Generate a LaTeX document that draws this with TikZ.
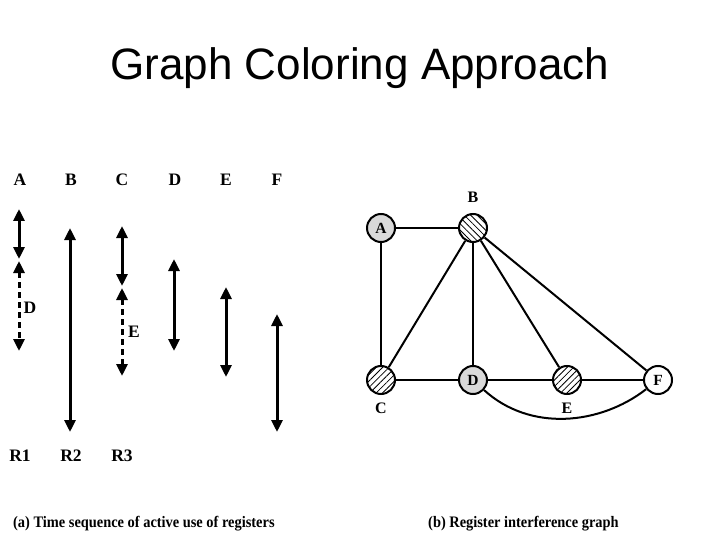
\documentclass[tikz,border=0pt]{standalone}
\usepackage{fontspec}
\setmainfont{Liberation Serif}
\newfontfamily\titlefont{Liberation Sans}
\usetikzlibrary{arrows.meta,patterns.meta}
\begin{document}
\begin{tikzpicture}[x=1pt,y=-1pt,
  lab/.style={font=\fontsize{17.5}{17.5}\selectfont\bfseries, inner sep=0pt},
  life/.style={line width=3pt, {Triangle[length=12pt,width=11pt]}-{Triangle[length=12pt,width=11pt]}},
  lifedash/.style={life, dash pattern=on 6pt off 4pt},
  vtx/.style={circle, draw, line width=2pt, minimum size=28pt, inner sep=0pt, font=\fontsize{15.5}{15.5}\selectfont\bfseries},
  grayfill/.style={fill=black!15},
  hatchne/.style={fill=white, postaction={pattern={Lines[angle=45,distance=4.5pt,line width=0.8pt]}}},
  hatchnw/.style={fill=white, postaction={pattern={Lines[angle=-45,distance=4.5pt,line width=0.8pt]}}},
  edge/.style={line width=2pt},
  captext/.style={font=\fontsize{16}{16}\selectfont\bfseries, inner sep=0pt}
]
\useasboundingbox (0,0) rectangle (720,540);
\node[font=\titlefont\fontsize{44}{44}\selectfont, inner sep=0pt] (title) at (360,68) {Graph Coloring Approach};

% left panel labels
\node[lab] (lA) at (20,180) {A};
\node[lab] (lB) at (71,180) {B};
\node[lab] (lC) at (122,180) {C};
\node[lab] (lD) at (175,180) {D};
\node[lab] (lE) at (226,180) {E};
\node[lab] (lF) at (277,180) {F};
\node[lab] (r1) at (20,456) {R1};
\node[lab] (r2) at (71,456) {R2};
\node[lab] (r3) at (122,456) {R3};

% lifetimes
\coordinate (a1) at (19,209); \coordinate (a2) at (19,259);
\coordinate (a3) at (19,261); \coordinate (a4) at (19,351);
\draw[life] (a1) -- (a2);
\draw[lifedash] (a3) -- (a4);
\node[lab] (dlab) at (30,308) {D};
\coordinate (b1) at (70,228); \coordinate (b2) at (70,432);
\draw[life] (b1) -- (b2);
\coordinate (c1) at (122,226); \coordinate (c2) at (122,286);
\coordinate (c3) at (122,288); \coordinate (c4) at (122,376);
\draw[life] (c1) -- (c2);
\draw[lifedash] (c3) -- (c4);
\node[lab] (elab) at (134,332) {E};
\coordinate (d1) at (174,259); \coordinate (d2) at (174,351);
\draw[life] (d1) -- (d2);
\coordinate (e1) at (226,287); \coordinate (e2) at (226,377);
\draw[life] (e1) -- (e2);
\coordinate (f1) at (277,314); \coordinate (f2) at (277,432);
\draw[life] (f1) -- (f2);

% graph
\node[vtx,grayfill] (A) at (381,228) {A};
\node[vtx,hatchnw] (B) at (473,228) {};
\node[vtx,hatchne] (C) at (381,380) {};
\node[vtx,grayfill] (D) at (473,380) {D};
\node[vtx,hatchne] (E) at (567,380) {};
\node[vtx,fill=white] (F) at (658,380) {F};
\node[lab,font=\fontsize{16}{16}\selectfont\bfseries] (Bl) at (473,197) {B};
\node[lab,font=\fontsize{16}{16}\selectfont\bfseries] (Cl) at (381,408) {C};
\node[lab,font=\fontsize{16}{16}\selectfont\bfseries] (El) at (567,408) {E};
\draw[edge] (A) -- (B);
\draw[edge] (A) -- (C);
\draw[edge] (B) -- (C);
\draw[edge] (B) -- (D);
\draw[edge] (B) -- (E);
\draw[edge] (B) -- (F);
\draw[edge] (C) -- (D);
\draw[edge] (D) -- (E);
\draw[edge] (E) -- (F);
\draw[edge] (D) .. controls (530,432) and (600,425) .. (F);

% captions
\node[captext, anchor=west] (capa) at (13,524) {\scalebox{0.9}[1]{(a) Time sequence of active use of registers}};
\node[captext, anchor=west] (capb) at (428,524) {\scalebox{0.9}[1]{(b) Register interference graph}};
\end{tikzpicture}
\end{document}
